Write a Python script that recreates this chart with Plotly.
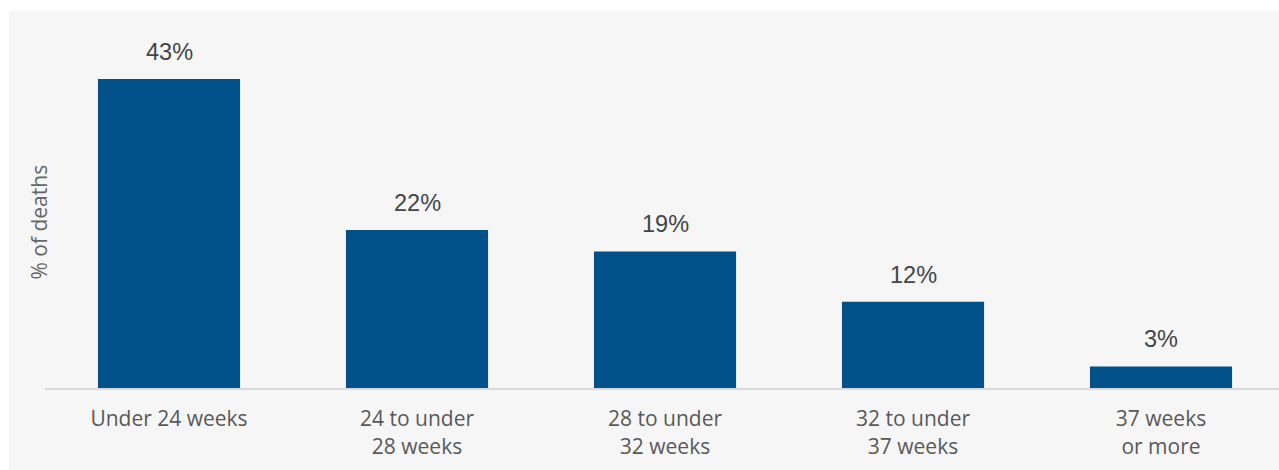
import plotly.graph_objects as go

# Share of deaths by gestational age at birth
categories = ["Under 24 weeks", "24 to under<br>28 weeks", "28 to under<br>32 weeks",
              "32 to under<br>37 weeks", "37 weeks<br>or more"]
shares = [43, 22, 19, 12, 3]
value_labels = ["43%", "22%", "19%", "12%", "3%"]

W, H = 1279, 470
LEFT, TOP, BOTTOM = 45, 11, 82
plot_h = H - TOP - BOTTOM
plot_w = W - LEFT
step = 248  # pixel distance between category centres

bar_color = "#00518a"
panel_color = "#f6f6f6"

fig = go.Figure(
    go.Bar(
        x=list(range(len(categories))),
        y=shares,
        marker=dict(color=bar_color, line=dict(width=0)),
        width=0.573,
        hoverinfo="skip",
    )
)

# value labels above each bar
for i, (v, lab) in enumerate(zip(shares, value_labels)):
    fig.add_annotation(
        x=i, y=v, text=lab, showarrow=False,
        xanchor="center", yanchor="middle", yshift=27,
        font=dict(family="Liberation Sans, Arial", size=23.5, color="#444444"),
    )

# y-axis title
fig.add_annotation(
    xref="paper", yref="paper",
    x=(38 - LEFT) / plot_w, y=(H - BOTTOM - 222.5) / plot_h,
    text="% of deaths", textangle=-90, showarrow=False,
    xanchor="center", yanchor="middle",
    font=dict(family="Open Sans", size=21, color="#666666"),
)

# light grey panel behind the chart
fig.add_shape(
    type="rect", xref="paper", yref="paper", layer="below",
    x0=(9 - LEFT) / plot_w, x1=1.05,
    y0=-0.4, y1=(H - BOTTOM - 11) / plot_h,
    fillcolor=panel_color, line=dict(width=0),
)

x_max = plot_w / step - 0.5
fig.update_layout(
    width=W, height=H,
    margin=dict(l=LEFT, r=0, t=TOP, b=BOTTOM, pad=0),
    paper_bgcolor="white",
    plot_bgcolor=panel_color,
    showlegend=False,
    xaxis=dict(
        range=[-0.5, x_max],
        tickmode="array",
        tickvals=list(range(len(categories))),
        ticktext=categories,
        showgrid=False, zeroline=False,
        showline=True, linecolor="#d9d9d9", linewidth=2,
        ticks="", ticklabelstandoff=11,
        tickfont=dict(family="Open Sans", size=21, color="#595959"),
        fixedrange=True,
    ),
    yaxis=dict(
        range=[0, plot_h / (309 / 43)],
        showgrid=False, zeroline=False, showline=False,
        showticklabels=False, ticks="",
        fixedrange=True,
    ),
)

fig.write_html("out.html", config={"displayModeBar": False})
